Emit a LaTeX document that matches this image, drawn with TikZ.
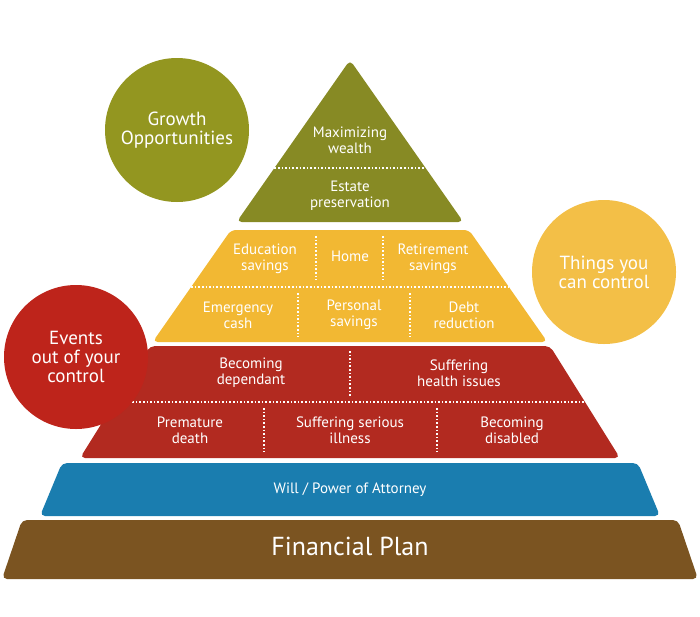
\documentclass[tikz,border=0pt]{standalone}
\usepackage{fontspec}
\setmainfont{PT Sans}
\definecolor{olive}{HTML}{878A24}
\definecolor{sun}{HTML}{F2B833}
\definecolor{brick}{HTML}{B22A20}
\definecolor{sea}{HTML}{1A7DAF}
\definecolor{earth}{HTML}{7B5421}
\tikzset{
  lbl/.style={text=white, font=\fontsize{15}{16}\selectfont, align=center},
  bubble/.style={circle, minimum size=144pt, text=white, font=\fontsize{19}{19}\selectfont, align=center},
  sep/.style={white, line width=1.6pt, dotted},
}
\begin{document}
\begin{tikzpicture}[x=1pt, y=-1pt]
  \useasboundingbox (0,0) rectangle (700,616);
  % pyramid layers
  \fill[olive, rounded corners=5pt] (350,60) -- (463.4,222) -- (236.6,222) -- cycle;
  \fill[sun, rounded corners=5pt] (231,230) -- (469,230) -- (547.4,342) -- (152.6,342) -- cycle;
  \fill[brick, rounded corners=5pt] (150,346) -- (550,346) -- (620,458) -- (80,458) -- cycle;
  \fill[sea, rounded corners=5pt] (62,463) -- (638,463) -- (660,516) -- (40,516) -- cycle;
  \fill[earth, rounded corners=5pt] (22,520) -- (678,520) -- (698,579) -- (2,579) -- cycle;
  % dotted separators
  \draw[sep] (274.4,168) -- (425.6,168);
  \draw[sep] (191.1,287) -- (508.9,287);
  \draw[sep] (110.6,402) -- (589.4,402);
  \draw[sep] (316,236) -- (316,280);
  \draw[sep] (383,236) -- (383,280);
  \draw[sep] (298,293) -- (298,337);
  \draw[sep] (410,293) -- (410,337);
  \draw[sep] (350,351) -- (350,396);
  \draw[sep] (264,408) -- (264,452);
  \draw[sep] (437,408) -- (437,452);
  % labels
  \node[lbl] (wealth) at (350,140) {Maximizing\\wealth};
  \node[lbl] (estate) at (350,196) {Estate\\preservation};
  \node[lbl] (edu) at (265,259) {Education\\savings};
  \node[lbl] (home) at (350,256) {Home};
  \node[lbl] (retire) at (433,259) {Retirement\\savings};
  \node[lbl] (emerg) at (238,315) {Emergency\\cash};
  \node[lbl] (personal) at (354,315) {Personal\\savings};
  \node[lbl] (debt) at (464,315) {Debt\\reduction};
  \node[lbl] (depend) at (251,373) {Becoming\\dependant};
  \node[lbl] (health) at (459,373) {Suffering\\health issues};
  \node[lbl] (death) at (190,430) {Premature\\death};
  \node[lbl] (illness) at (350,430) {Suffering serious\\illness};
  \node[lbl] (disabled) at (512,430) {Becoming\\disabled};
  \node[lbl] (will) at (350,490) {Will / Power of Attorney};
  \node[lbl, font=\fontsize{26}{26}\selectfont] (plan) at (350,546) {Financial Plan};
  % circles
  \node[bubble, fill=olive!90!yellow] (growth) at (177,130) {Growth\\Opportunities};
  \node[bubble, fill=sun!90!white] (control) at (604,272) {Things you\\can control};
  \node[bubble, fill=brick!85!red] (events) at (76,357) {Events\\out of your\\control};
\end{tikzpicture}
\end{document}
